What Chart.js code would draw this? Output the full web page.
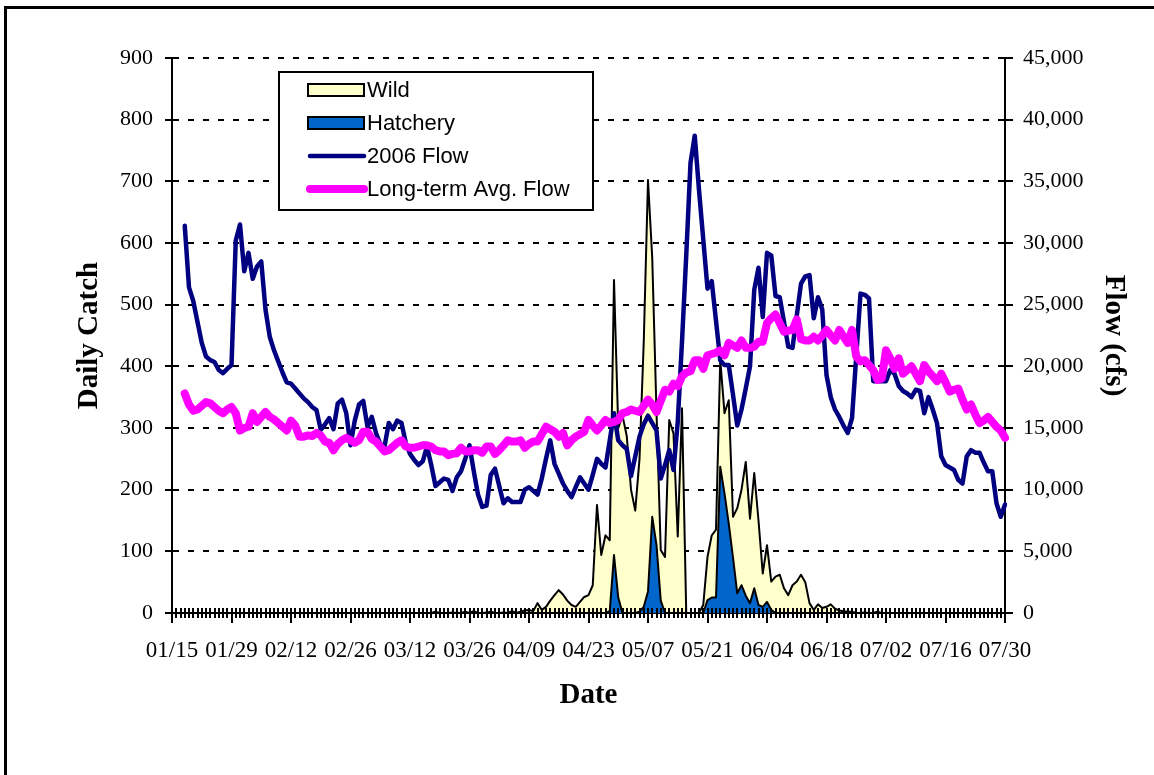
<!DOCTYPE html>
<html>
<head>
<meta charset="utf-8">
<title>Daily Catch and Flow 2006</title>
<script src="https://cdn.jsdelivr.net/npm/chart.js@4.4.0/dist/chart.umd.min.js"></script>
<style>
  html, body { margin: 0; padding: 0; background: #ffffff; }
  #wrap { width: 1154px; height: 775px; }
</style>
</head>
<body>
<div id="wrap"><canvas id="catchChart" width="1154" height="775"></canvas></div>
<script>
// Daily categories, 01/15 to 07/30
const dates = [];
for (let i = 0; i < 197; i++) {
    const d = new Date(2006, 0, 15 + i);
    dates.push(String(d.getMonth() + 1).padStart(2, '0') + '/' + String(d.getDate()).padStart(2, '0'));
}

// Labels shown under the axis (every 14 days)
const tickLabels = ['01/15', '01/29', '02/12', '02/26', '03/12', '03/26', '04/09', '04/23',
                    '05/07', '05/21', '06/04', '06/18', '07/02', '07/16', '07/30'];

// Daily catch, wild fish
const wildCatch = [
    0, 0, 0, 0, 0, 0, 0, 0, 0, 0, 0, 0, 0, 0,
    0, 0, 0, 0, 0, 0, 0, 0, 0, 0, 0, 0, 0, 0,
    0, 0, 0, 0, 0, 0, 0, 0, 0, 0, 0, 0, 0, 0,
    0, 0, 0, 0, 0, 0, 0, 0, 0, 0, 0, 0, 0, 0,
    0, 0, 0, 0, 0, 0, 2, 0, 0, 0, 1, 0, 0, 2,
    0, 3, 0, 0, 1, 2, 0, 0, 1, 0, 3, 0, 2, 4,
    5, 3, 16, 5, 10, 20, 29, 37, 30, 20, 13, 10, 18, 26,
    29, 45, 175, 94, 126, 118, 540, 300, 320, 287, 200, 166, 250, 440,
    702, 575, 326, 102, 91, 313, 291, 124, 332, 0, 0, 0, 0, 13,
    91, 126, 135, 410, 324, 345, 156, 170, 200, 245, 153, 227, 150, 64,
    110, 51, 59, 62, 40, 29, 45, 51, 62, 50, 16, 5, 14, 8,
    10, 14, 7, 4, 3, 2, 2, 0, 0, 1, 0, 0, 2, 0,
    0, 0, 0, 0, 0, 0, 0, 0, 0, 0, 0, 0, 0, 0,
    0, 0, 0, 0, 0, 0, 0, 0, 0, 0, 0, 0, 0, 0,
    0
];

// Daily catch, hatchery fish
const hatcheryCatch = [
    0, 0, 0, 0, 0, 0, 0, 0, 0, 0, 0, 0, 0, 0,
    0, 0, 0, 0, 0, 0, 0, 0, 0, 0, 0, 0, 0, 0,
    0, 0, 0, 0, 0, 0, 0, 0, 0, 0, 0, 0, 0, 0,
    0, 0, 0, 0, 0, 0, 0, 0, 0, 0, 0, 0, 0, 0,
    0, 0, 0, 0, 0, 0, 0, 0, 0, 0, 0, 0, 0, 0,
    0, 0, 0, 0, 0, 0, 0, 0, 0, 0, 0, 0, 0, 0,
    0, 0, 0, 0, 0, 0, 0, 0, 0, 0, 0, 0, 0, 0,
    0, 0, 0, 0, 0, 3, 94, 25, 0, 0, 0, 0, 2, 10,
    35, 156, 110, 20, 0, 0, 0, 0, 0, 0, 0, 0, 0, 0,
    21, 25, 25, 237, 194, 145, 90, 32, 45, 28, 16, 40, 13, 10,
    18, 5, 0, 0, 0, 0, 0, 0, 0, 0, 0, 0, 0, 0,
    0, 0, 0, 0, 0, 0, 0, 0, 0, 0, 0, 0, 0, 0,
    0, 0, 0, 0, 0, 0, 0, 0, 0, 0, 0, 0, 0, 0,
    0, 0, 0, 0, 0, 0, 0, 0, 0, 0, 0, 0, 0, 0,
    0
];

// 2006 river flow (cfs)
const flow2006 = [
    null, null, null, 31400, 26400, 25300, 23600, 21900, 20800, 20500, 20350, 19700, 19450, 19800,
    20100, 30200, 31500, 27700, 29200, 27100, 28100, 28500, 24600, 22400, 21300, 20400, 19500, 18700,
    18600, 18200, 17800, 17400, 17100, 16700, 16450, 14850, 15300, 15800, 14900, 17000, 17300, 16200,
    13600, 15600, 16900, 17200, 15100, 15900, 14600, 13700, 13500, 15400, 14900, 15600, 15400, 13800,
    12900, 12400, 12000, 12300, 13500, 12000, 10300, 10600, 10900, 10800, 9900, 11000, 11500, 12500,
    13600, 11500, 9600, 8600, 8700, 11200, 11700, 10300, 8900, 9300, 9000, 9000, 9000, 10000,
    10200, 9900, 9600, 10900, 12500, 14000, 12100, 11300, 10500, 9900, 9400, 10200, 11000, 10500,
    10000, 11200, 12500, 12100, 11800, 14000, 16200, 14000, 13600, 13300, 11100, 12700, 14300, 15300,
    16000, 15400, 14800, 10900, 12000, 13200, 11600, 15500, 22000, 29000, 36500, 38700, 34300, 30300,
    26300, 26900, 23700, 20500, 20100, 20100, 17700, 15200, 16500, 18200, 20000, 26200, 28000, 24000,
    29200, 29000, 25700, 25600, 23600, 21600, 21500, 24100, 26700, 27300, 27400, 23900, 25600, 24600,
    19300, 17500, 16500, 15900, 15200, 14600, 15800, 20800, 25900, 25800, 25500, 18800, 18800, 18800,
    18800, 19700, 19400, 18400, 18000, 17800, 17500, 18100, 18000, 16200, 17500, 16500, 15400, 12700,
    12000, 11800, 11600, 10800, 10500, 12700, 13200, 13000, 13000, 12200, 11500, 11500, 8900, 7800,
    8800
];

// Long-term average flow (cfs)
const flowAvg = [
    null, null, null, 17800, 16900, 16400, 16500, 16800, 17100, 17000, 16700, 16400, 16200, 16500,
    16700, 16200, 14800, 15000, 15100, 16200, 15500, 15900, 16300, 15900, 15700, 15400, 15100, 14800,
    15600, 15200, 14300, 14300, 14400, 14350, 14600, 14400, 13900, 13800, 13200, 13700, 14000, 14200,
    14000, 13800, 14000, 14700, 14700, 14100, 13900, 13500, 13100, 13200, 13500, 13800, 14000, 13500,
    13400, 13400, 13500, 13600, 13600, 13500, 13200, 13100, 13100, 12800, 12900, 12950, 13400, 13100,
    13100, 13200, 13200, 13000, 13500, 13500, 12900, 13200, 13600, 14000, 13900, 13900, 14000, 13400,
    13700, 13900, 13900, 14500, 15100, 14900, 14700, 14300, 14600, 13600, 14000, 14300, 14500, 14700,
    15650, 15200, 14800, 15200, 15650, 15400, 15500, 15650, 16200, 16300, 16500, 16400, 16300, 16800,
    17300, 16900, 16300, 17200, 18100, 17950, 18600, 18400, 19200, 19500, 19600, 20500, 20500, 19800,
    20900, 21000, 21100, 21300, 20900, 21900, 21700, 21500, 22100, 21500, 21500, 21600, 22000, 22000,
    23500, 23900, 24200, 23500, 22800, 22900, 22950, 23800, 22200, 22100, 22100, 22400, 22100, 22500,
    22950, 22500, 22100, 22950, 22400, 21900, 22950, 20800, 20400, 20500, 20100, 19700, 18900, 19000,
    21300, 20650, 19800, 20650, 19400, 19700, 20000, 19400, 18800, 20100, 19600, 19200, 18800, 19400,
    18700, 17950, 18100, 18200, 17300, 16500, 16900, 16100, 15400, 15600, 15900, 15500, 15100, 14800,
    14200
];

const serif = 'Liberation Serif';
const sans = 'Liberation Sans';

// Daily tick marks on the date axis (longer every 14 days)
const dayTicks = {
    id: 'dayTicks',
    afterDatasetsDraw(chart) {
        const ctx = chart.ctx;
        const xScale = chart.scales.x;
        const base = chart.chartArea.bottom;
        ctx.save();
        ctx.strokeStyle = '#000';
        ctx.lineWidth = 2;
        for (let i = 0; i < dates.length; i++) {
            const px = Math.round(xScale.getPixelForValue(i));
            ctx.beginPath();
            ctx.moveTo(px, base - 5);
            ctx.lineTo(px, base + (i % 14 === 0 ? 10 : 5));
            ctx.stroke();
        }
        ctx.restore();
    }
};

// Legend box inside the plot, plus the outer frame
const boxLegend = {
    id: 'boxLegend',
    afterDraw(chart) {
        const ctx = chart.ctx;
        const ds = chart.data.datasets;
        ctx.save();

        // frame
        ctx.strokeStyle = '#000';
        ctx.lineWidth = 3;
        ctx.beginPath();
        ctx.moveTo(1154, 7.5);
        ctx.lineTo(5.5, 7.5);
        ctx.lineTo(5.5, 775);
        ctx.stroke();

        // legend box
        ctx.fillStyle = '#fff';
        ctx.fillRect(279, 72, 314, 138);
        ctx.lineWidth = 2;
        ctx.strokeRect(279, 72, 314, 138);

        const rows = [90, 123, 156, 189];
        // area swatches
        [0, 1].forEach(k => {
            ctx.fillStyle = ds[k].backgroundColor;
            ctx.fillRect(308, rows[k] - 6, 56, 12);
            ctx.lineWidth = 2;
            ctx.strokeStyle = '#000';
            ctx.strokeRect(308, rows[k] - 6, 56, 12);
        });
        // line swatches
        [2, 3].forEach(k => {
            ctx.strokeStyle = ds[k].borderColor;
            ctx.lineWidth = ds[k].borderWidth;
            ctx.lineCap = 'round';
            ctx.beginPath();
            ctx.moveTo(310, rows[k]);
            ctx.lineTo(364, rows[k]);
            ctx.stroke();
        });

        ctx.fillStyle = '#000';
        ctx.font = '22px "' + sans + '"';
        ctx.textBaseline = 'middle';
        ds.forEach((d, k) => ctx.fillText(d.label, 367, rows[k] + 1));
        ctx.restore();
    }
};

function initCatchChart() {
    const ctx = document.getElementById('catchChart').getContext('2d');

    new Chart(ctx, {
        type: 'line',
        data: {
            labels: dates,
            datasets: [{
                label: 'Wild',
                data: wildCatch,
                yAxisID: 'yCatch',
                borderColor: '#000000',
                borderWidth: 2,
                backgroundColor: '#FFFFCC',
                fill: 'origin',
                order: 4
            }, {
                label: 'Hatchery',
                data: hatcheryCatch,
                yAxisID: 'yCatch',
                borderColor: '#000000',
                borderWidth: 2,
                backgroundColor: '#0066CC',
                fill: 'origin',
                order: 3
            }, {
                label: '2006 Flow',
                data: flow2006,
                yAxisID: 'yFlow',
                borderColor: '#000080',
                borderWidth: 4.5,
                fill: false,
                order: 2
            }, {
                label: 'Long-term Avg. Flow',
                data: flowAvg,
                yAxisID: 'yFlow',
                borderColor: '#FF00FF',
                borderWidth: 8,
                fill: false,
                order: 1
            }]
        },
        options: {
            responsive: false,
            animation: false,
            devicePixelRatio: 1,
            layout: { padding: { top: 58, left: 0, right: 0, bottom: 0 } },
            elements: {
                point: { radius: 0, hoverRadius: 0 },
                line: { tension: 0, borderJoinStyle: 'round', borderCapStyle: 'round' }
            },
            plugins: {
                legend: { display: false },
                tooltip: { enabled: false }
            },
            scales: {
                x: {
                    type: 'category',
                    offset: false,
                    grid: { display: false },
                    border: { display: true, color: '#000', width: 2 },
                    ticks: {
                        autoSkip: false,
                        maxRotation: 0,
                        minRotation: 0,
                        padding: 16,
                        color: '#000',
                        font: { family: serif, size: 23 },
                        callback: function(value, index) {
                            return index % 14 === 0 ? tickLabels[index / 14] : '';
                        }
                    },
                    title: {
                        display: true,
                        text: 'Date',
                        color: '#000',
                        font: { family: serif, size: 29, weight: 'bold' },
                        padding: { top: 0, bottom: 62 }
                    },
                    afterFit: function(scale) { scale.height = 162; }
                },
                yCatch: {
                    position: 'left',
                    min: 0,
                    max: 900,
                    grid: { color: '#000', lineWidth: 2, tickLength: 7, tickColor: '#000', tickWidth: 2 },
                    border: { display: true, color: '#000', width: 2, dash: [6, 9] },
                    ticks: {
                        stepSize: 100,
                        padding: 12,
                        color: '#000',
                        font: { family: serif, size: 22 }
                    },
                    title: {
                        display: true,
                        text: 'Daily Catch',
                        color: '#000',
                        font: { family: serif, size: 29, weight: 'bold' },
                        padding: { top: 72, bottom: 0 }
                    },
                    afterFit: function(scale) { scale.width = 172; }
                },
                yFlow: {
                    position: 'right',
                    min: 0,
                    max: 45000,
                    grid: { drawOnChartArea: false, color: '#000', lineWidth: 2, tickLength: 8 },
                    border: { display: true, color: '#000', width: 2 },
                    ticks: {
                        stepSize: 5000,
                        padding: 10,
                        color: '#000',
                        font: { family: serif, size: 22 },
                        callback: function(value) {
                            return value.toLocaleString('en-US');
                        }
                    },
                    title: {
                        display: true,
                        text: 'Flow (cfs)',
                        color: '#000',
                        font: { family: serif, size: 29, weight: 'bold' },
                        padding: { top: 23, bottom: 0 }
                    },
                    afterFit: function(scale) { scale.width = 149; }
                }
            }
        },
        plugins: [dayTicks, boxLegend]
    });
}

document.addEventListener('DOMContentLoaded', initCatchChart);
</script>
</body>
</html>
